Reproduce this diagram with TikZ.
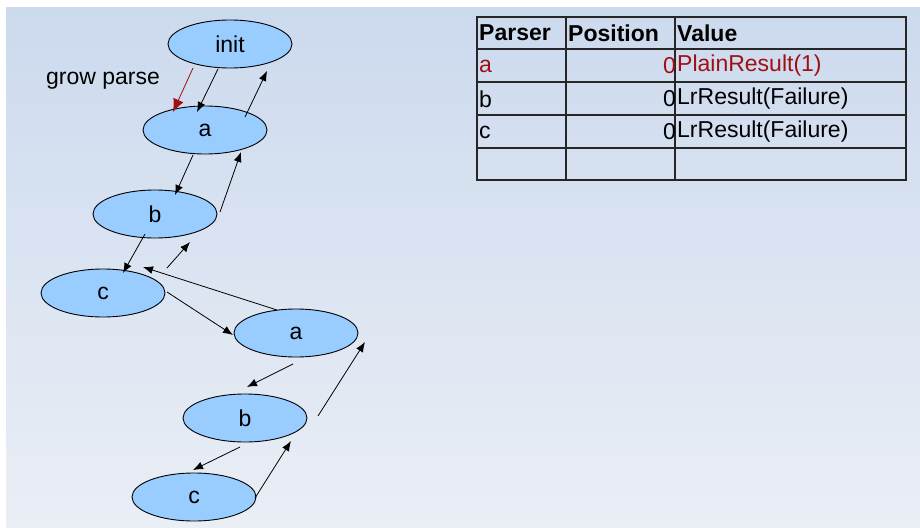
\documentclass[tikz,border=0pt]{standalone}
\usepackage{fontspec}
\setmainfont{Liberation Sans}
\usetikzlibrary{shapes.geometric,arrows.meta}

\definecolor{bgtop}{HTML}{CCDAEE}
\definecolor{bgbot}{HTML}{EAEEF5}
\definecolor{nodeblue}{HTML}{99CCFF}
\definecolor{darkred}{HTML}{A01010}

\tikzset{
    parser/.style={ellipse, draw=black, line width=0.9pt, fill=nodeblue, minimum width=124pt, minimum height=48pt, inner sep=0pt, font=\fontsize{23}{27}\selectfont},
    call/.style={-{Latex[length=10pt,width=8pt]}, black, line width=0.8pt},
    cell/.style={anchor=west, inner sep=0pt, font=\fontsize{23}{27}\selectfont},
    num/.style={anchor=east, inner sep=0pt, font=\fontsize{23}{27}\selectfont},
}

\begin{document}
\begin{tikzpicture}[x=1pt, y=-1pt]
    \useasboundingbox (0,0) rectangle (920,527);
    \fill[white] (0,0) rectangle (920,527);
    \shade[top color=bgtop, bottom color=bgbot] (6,8) rectangle (920,527);

    % parse tree
    \node[parser] (init) at (230,44) {init};
    \node[parser] (a1) at (205,130) {a};
    \node[parser] (b1) at (155,214) {b};
    \node[parser] (c1) at (103,293) {c};
    \node[parser] (a2) at (296,333) {a};
    \node[parser] (b2) at (245,418) {b};
    \node[parser] (c2) at (194,497) {c};

    \node[font=\fontsize{23}{27}\selectfont] (grow) at (103,81) {grow parse};
    \draw[call, darkred, -{Latex[length=13pt,width=11pt]}] ([shift={(-37,24)}]init.center) -- ([shift={(-32,-18)}]a1.center);

    \draw[call] ([shift={(-12,25)}]init.center) -- ([shift={(-8,-18)}]a1.center);
    \draw[call] ([shift={(40,-13)}]a1.center) -- ([shift={(37,27)}]init.center);
    \draw[call] ([shift={(-12,25)}]a1.center) -- ([shift={(20,-19)}]b1.center);
    \draw[call] ([shift={(65,-2)}]b1.center) -- ([shift={(36,22)}]a1.center);
    \draw[call] ([shift={(-10,20)}]b1.center) -- ([shift={(20,-20)}]c1.center);
    \draw[call] ([shift={(64,-25)}]c1.center) -- ([shift={(35,28)}]b1.center);
    \draw[call] ([shift={(-19,-23)}]a2.center) -- ([shift={(40,-26)}]c1.center);
    \draw[call] ([shift={(64,-1)}]c1.center) -- ([shift={(-63,2)}]a2.center);
    \draw[call] ([shift={(-3,31)}]a2.center) -- ([shift={(2,-31)}]b2.center);
    \draw[call] ([shift={(73,-2)}]b2.center) -- ([shift={(69,9)}]a2.center);
    \draw[call] ([shift={(-5,29)}]b2.center) -- ([shift={(-1,-27)}]c2.center);
    \draw[call] ([shift={(61,1)}]c2.center) -- ([shift={(46,23)}]b2.center);

    % memo table
    \draw[line width=1.6pt, black!85] (477,17) rectangle (906,180);
    \foreach \y in {49, 82, 115, 148} \draw[line width=1.6pt, black!85] (477,\y) -- (906,\y);
    \foreach \x in {566, 675} \draw[line width=1.6pt, black!85] (\x,17) -- (\x,180);

    \node[cell, font=\fontsize{23}{27}\selectfont\bfseries] (hparser) at (479,33) {Parser};
    \node[cell, font=\fontsize{23}{27}\selectfont\bfseries] (hpos) at (568,33) {Position};
    \node[cell, font=\fontsize{23}{27}\selectfont\bfseries] (hval) at (677,33) {Value};

    \node[cell, darkred] (pa) at (479,66) {a};
    \node[num, darkred] (na) at (676,66) {0};
    \node[cell, darkred] (va) at (677,66) {PlainResult(1)};
    \node[cell] (pb) at (479,99) {b};
    \node[num] (nb) at (676,99) {0};
    \node[cell] (vb) at (677,99) {LrResult(Failure)};
    \node[cell] (pc) at (479,132) {c};
    \node[num] (nc) at (676,132) {0};
    \node[cell] (vc) at (677,132) {LrResult(Failure)};
\end{tikzpicture}
\end{document}
